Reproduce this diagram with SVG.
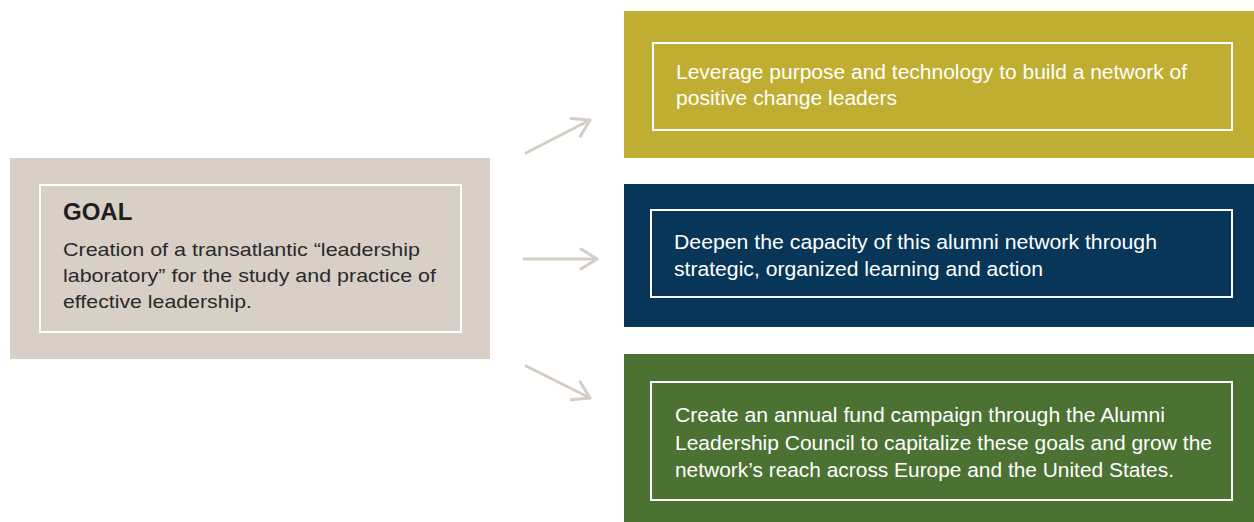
<svg xmlns="http://www.w3.org/2000/svg" width="1254" height="522" viewBox="0 0 1254 522">
<defs>
<style>
.frame{fill:none;stroke:#ffffff;stroke-width:2}
.body{font-family:"Liberation Sans",Arial,sans-serif;font-size:19px}
.rt{font-family:"Liberation Sans",Arial,sans-serif;font-size:20.5px;fill:#ffffff}
.goalt{fill:#2a2a2a}
.conn{stroke:#d6cdc4;stroke-width:3;fill:none;stroke-linecap:round}
</style>
<marker id="ah" viewBox="0 0 20 24" refX="18" refY="12" markerWidth="20" markerHeight="24" markerUnits="userSpaceOnUse" orient="auto">
<path d="M2,2 L18,12 L2,22" fill="none" stroke="#d6cdc4" stroke-width="3" stroke-linecap="round" stroke-linejoin="round"/>
</marker>
</defs>
<rect width="1254" height="522" fill="#ffffff"/>
<g id="goal">
<rect x="10" y="158" width="480" height="201" fill="#d8cfc6"/>
<rect class="frame" x="40" y="185" width="421" height="147"/>
<text x="63" y="220" font-family="Liberation Sans,Arial,sans-serif" font-size="24" font-weight="bold" fill="#1e1e1e">GOAL</text>
<text class="body goalt" x="63" y="256" textLength="357" lengthAdjust="spacingAndGlyphs">Creation of a transatlantic “leadership</text>
<text class="body goalt" x="63" y="282" textLength="373" lengthAdjust="spacingAndGlyphs">laboratory” for the study and practice of</text>
<text class="body goalt" x="63" y="308" textLength="189" lengthAdjust="spacingAndGlyphs">effective leadership.</text>
</g>
<g id="leverage">
<rect x="624" y="11" width="630" height="147" fill="#bfae31"/>
<rect class="frame" x="653" y="43" width="579" height="87"/>
<text class="rt" x="676" y="79" textLength="511" lengthAdjust="spacingAndGlyphs">Leverage purpose and technology to build a network of</text>
<text class="rt" x="676" y="105" textLength="221" lengthAdjust="spacingAndGlyphs">positive change leaders</text>
</g>
<g id="deepen">
<rect x="624" y="184" width="630" height="143" fill="#073658"/>
<rect class="frame" x="651" y="210" width="581" height="87"/>
<text class="rt" x="674" y="249" textLength="483" lengthAdjust="spacingAndGlyphs">Deepen the capacity of this alumni network through</text>
<text class="rt" x="674" y="276" textLength="369" lengthAdjust="spacingAndGlyphs">strategic, organized learning and action</text>
</g>
<g id="fund">
<rect x="624" y="354" width="630" height="168" fill="#4c7233"/>
<rect class="frame" x="651" y="382" width="581" height="118"/>
<text class="rt" x="675" y="422" textLength="490" lengthAdjust="spacingAndGlyphs">Create an annual fund campaign through the Alumni</text>
<text class="rt" x="675" y="450" textLength="537" lengthAdjust="spacingAndGlyphs">Leadership Council to capitalize these goals and grow the</text>
<text class="rt" x="675" y="477" textLength="499" lengthAdjust="spacingAndGlyphs">network’s reach across Europe and the United States.</text>
</g>
<g id="connectors">
<line class="conn" x1="526" y1="153" x2="590" y2="120" marker-end="url(#ah)"/>
<line class="conn" x1="524" y1="259" x2="597" y2="259" marker-end="url(#ah)"/>
<line class="conn" x1="526" y1="366" x2="590" y2="398" marker-end="url(#ah)"/>
</g>
</svg>
